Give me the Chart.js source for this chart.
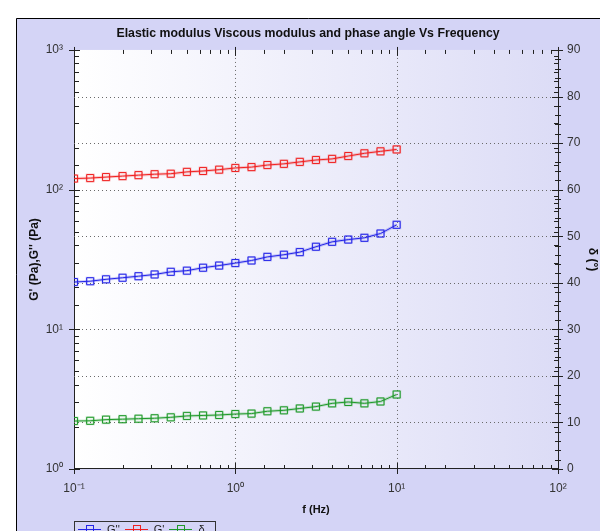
<!DOCTYPE html>
<html>
<head>
<meta charset="utf-8">
<script src="https://cdn.jsdelivr.net/npm/chart.js@4.4.0/dist/chart.umd.min.js"></script>
<style>
  html, body { margin: 0; padding: 0; background: #fff; }
  #wrap { position: relative; width: 600px; height: 531px; overflow: hidden; }
  #legend {
    position: absolute; left: 74px; top: 521px; width: 142px; height: 20px;
    border: 1px solid #333; box-sizing: border-box; padding: 1px 0 0 3px;
    font: 11px "Liberation Sans", Arial, sans-serif; color: #222;
    display: flex; align-items: flex-start;
  }
  .item { display: flex; align-items: center; margin-right: 5px; height: 12px; }
  .swatch { position: relative; width: 23px; height: 8px; margin-right: 6px; }
  .swatch .ln { position: absolute; left: 0; right: 0; top: 4px; height: 1px; }
  .swatch .sq { position: absolute; left: 8px; top: 0px; width: 6px; height: 6px; border: 1px solid; }
</style>
</head>
<body>
<div id="wrap">
  <canvas id="chart" width="600" height="531"></canvas>
  <div id="legend"></div>
</div>
<script>
// frequency (Hz)
const freq = [0.1, 0.126, 0.158, 0.2, 0.251, 0.316, 0.398, 0.501, 0.631, 0.794, 1,
              1.26, 1.58, 2, 2.51, 3.16, 3.98, 5.01, 6.31, 7.94, 10];
// G'' (Pa)
const gDoublePrime = [21.8, 22.1, 22.8, 23.4, 24.0, 24.7, 25.8, 26.3, 27.6, 28.6, 29.8,
                      31.1, 33.0, 34.2, 35.7, 39.0, 42.3, 43.9, 45.2, 48.5, 56.0];
// G' (Pa)
const gPrime = [120, 121, 123, 125, 127, 129, 130, 134, 136, 139, 143,
                145, 150, 153, 158, 163, 166, 174, 182, 188, 194];
// phase angle (deg)
const delta = [10.3, 10.35, 10.6, 10.7, 10.8, 10.9, 11.1, 11.4, 11.5, 11.6, 11.8,
               11.9, 12.4, 12.6, 13.0, 13.4, 14.1, 14.4, 14.1, 14.5, 16.0];

const xDecades = [0.1, 1, 10, 100];
const xTickLabels = ['10⁻¹', '10⁰', '10¹', '10²'];
const yDecades = [1, 10, 100, 1000];
const yTickLabels = ['10⁰', '10¹', '10²', '10³'];

const seriesNames = ["G''", "G'", 'δ'];
const seriesColors = ['#2424e8', '#f02020', '#1f9a2a'];
const glowColors = ['rgba(36,36,232,0.22)', 'rgba(240,32,32,0.22)', 'rgba(31,154,42,0.22)'];

Chart.defaults.font.family = '"Liberation Sans", Arial, sans-serif';

function indexOfDecade(decades, value) {
    return decades.findIndex(d => Math.abs(value / d - 1) < 1e-6);
}
function decadeLabel(decades, labels) {
    return value => {
        const i = indexOfDecade(decades, value);
        return i >= 0 ? labels[i] : '';
    };
}

function pts(ys) { return freq.map((f, i) => ({ x: f, y: ys[i] })); }

function series(idx, ys, axis) {
    return [{
        label: seriesNames[idx], data: pts(ys), yAxisID: axis, order: 1,
        borderColor: seriesColors[idx], borderWidth: 1,
        pointStyle: 'rect', pointRadius: 5, pointBorderWidth: 1,
        pointBorderColor: seriesColors[idx], pointBackgroundColor: 'rgba(0,0,0,0)'
    }, {
        label: seriesNames[idx] + ' glow', data: pts(ys), yAxisID: axis, order: 2,
        borderColor: glowColors[idx], borderWidth: 3,
        pointStyle: 'rect', pointRadius: 5, pointBorderWidth: 2,
        pointBorderColor: glowColors[idx], pointBackgroundColor: 'rgba(0,0,0,0)'
    }];
}

const framePlugin = {
    id: 'frame',
    beforeDraw(chart) {
        const { ctx, chartArea: a, width, height } = chart;
        ctx.save();
        ctx.fillStyle = '#ffffff';
        ctx.fillRect(0, 0, width, height);
        ctx.fillStyle = '#d4d4f6';
        ctx.fillRect(16, 18, width - 16, height - 18);
        ctx.strokeStyle = '#000';
        ctx.lineWidth = 1;
        ctx.beginPath();
        ctx.moveTo(16.5, height); ctx.lineTo(16.5, 18.5); ctx.lineTo(width, 18.5);
        ctx.stroke();
        const g = ctx.createLinearGradient(a.left, 0, a.right, 0);
        g.addColorStop(0, '#ffffff');
        g.addColorStop(1, '#dcdcf6');
        ctx.fillStyle = g;
        ctx.fillRect(a.left, a.top, a.right - a.left, a.bottom - a.top);
        ctx.restore();
    },
    beforeDatasetsDraw(chart) {
        // dotted grid
        const { ctx, chartArea: a, scales: { x, y, y1 } } = chart;
        ctx.save();
        ctx.strokeStyle = '#6a6a6a';
        ctx.lineWidth = 1;
        ctx.setLineDash([1, 3]);
        xDecades.slice(1, -1).forEach(v => {
            const px = Math.round(x.getPixelForValue(v)) + 0.5;
            ctx.beginPath(); ctx.moveTo(px, a.top); ctx.lineTo(px, a.bottom); ctx.stroke();
        });
        yDecades.slice(1, -1).forEach(v => {
            const py = Math.round(y.getPixelForValue(v)) + 0.5;
            ctx.beginPath(); ctx.moveTo(a.left, py); ctx.lineTo(a.right, py); ctx.stroke();
        });
        y1.ticks.forEach(t => {
            if (t.value <= y1.min || t.value >= y1.max) return;
            const py = Math.round(y1.getPixelForValue(t.value)) + 0.5;
            ctx.beginPath(); ctx.moveTo(a.left, py); ctx.lineTo(a.right, py); ctx.stroke();
        });
        ctx.restore();
    },
    afterDatasetsDraw(chart) {
        // tick marks on all four sides
        const { ctx, chartArea: a, scales: { x, y, y1 } } = chart;
        ctx.save();
        ctx.strokeStyle = '#222';
        ctx.lineWidth = 1;
        const seg = (x1, ya, x2, yb) => { ctx.beginPath(); ctx.moveTo(x1, ya); ctx.lineTo(x2, yb); ctx.stroke(); };
        x.ticks.forEach(t => {
            const px = Math.round(x.getPixelForValue(t.value)) + 0.5;
            const major = indexOfDecade(xDecades, t.value) >= 0;
            seg(px, a.bottom - (major ? 6 : 4), px, a.bottom + (major ? 5 : 0));
            seg(px, a.top - (major ? 3 : 0), px, a.top + (major ? 6 : 4));
        });
        y.ticks.forEach(t => {
            const py = Math.round(y.getPixelForValue(t.value)) + 0.5;
            const major = indexOfDecade(yDecades, t.value) >= 0;
            seg(a.left - (major ? 5 : 0), py, a.left + (major ? 6 : 5), py);
            seg(a.right - (major ? 6 : 4), py, a.right, py);
        });
        for (let v = y1.min; v <= y1.max; v += 2) {
            const py = Math.round(y1.getPixelForValue(v)) + 0.5;
            const major = v % 10 === 0;
            seg(a.right - (major ? 6 : 3), py, a.right + (major ? 5 : 3), py);
        }
        ctx.restore();
    }
};

new Chart(document.getElementById('chart'), {
    type: 'line',
    data: {
        datasets: [
            ...series(0, gDoublePrime, 'y'),
            ...series(1, gPrime, 'y'),
            ...series(2, delta, 'y1')
        ]
    },
    options: {
        responsive: false,
        animation: false,
        layout: { padding: { left: 16, top: 18, right: 0, bottom: 0 } },
        plugins: {
            legend: { display: false },
            tooltip: { enabled: false },
            title: {
                display: true,
                text: 'Elastic modulus Viscous modulus and phase angle Vs Frequency',
                color: '#111',
                font: { size: 12.3, weight: 'bold' },
                padding: { top: 8, bottom: 9.2 }
            }
        },
        scales: {
            x: {
                type: 'logarithmic', min: 0.1, max: 100, position: 'bottom',
                afterFit: s => { s.height = 62; },
                grid: { display: true, drawOnChartArea: false, drawTicks: false },
                border: { display: true, color: '#222', width: 1 },
                ticks: {
                    autoSkip: false, maxRotation: 0, padding: 12, color: '#333',
                    font: { size: 12 }, callback: decadeLabel(xDecades, xTickLabels)
                },
                title: {
                    display: true, text: 'f (Hz)', color: '#111',
                    font: { size: 11, weight: 'bold' }, padding: { top: 0, bottom: 14 }
                }
            },
            y: {
                type: 'logarithmic', min: 1, max: 1000, position: 'left',
                afterFit: s => { s.width = 58; },
                grid: { display: true, drawOnChartArea: false, drawTicks: false },
                border: { display: true, color: '#222', width: 1 },
                ticks: {
                    autoSkip: false, padding: 11, color: '#333',
                    font: { size: 12 }, callback: decadeLabel(yDecades, yTickLabels)
                },
                title: {
                    display: true, text: "G' (Pa),G'' (Pa)", color: '#111',
                    font: { size: 12, weight: 'bold' }, padding: { top: 11, bottom: 0 }
                }
            },
            y1: {
                type: 'linear', min: 0, max: 90, position: 'right',
                afterFit: s => { s.width = 42; },
                grid: { display: true, drawOnChartArea: false, drawTicks: false },
                border: { display: true, color: '#222', width: 1 },
                ticks: { stepSize: 10, padding: 9, color: '#333', font: { size: 12 } },
                title: {
                    display: true, text: 'δ (°)', color: '#111',
                    font: { size: 12, weight: 'bold' }, padding: { top: 0, bottom: 0 }
                }
            }
        }
    },
    plugins: [framePlugin]
});

// legend (cut off by the bottom edge, as in the original)
document.getElementById('legend').innerHTML = seriesNames.map((name, i) => `
    <div class="item">
        <span class="swatch"><span class="ln" style="background:${seriesColors[i]}"></span><span class="sq" style="border-color:${seriesColors[i]}"></span></span>
        <span>${name}</span>
    </div>`).join('');
</script>
</body>
</html>
